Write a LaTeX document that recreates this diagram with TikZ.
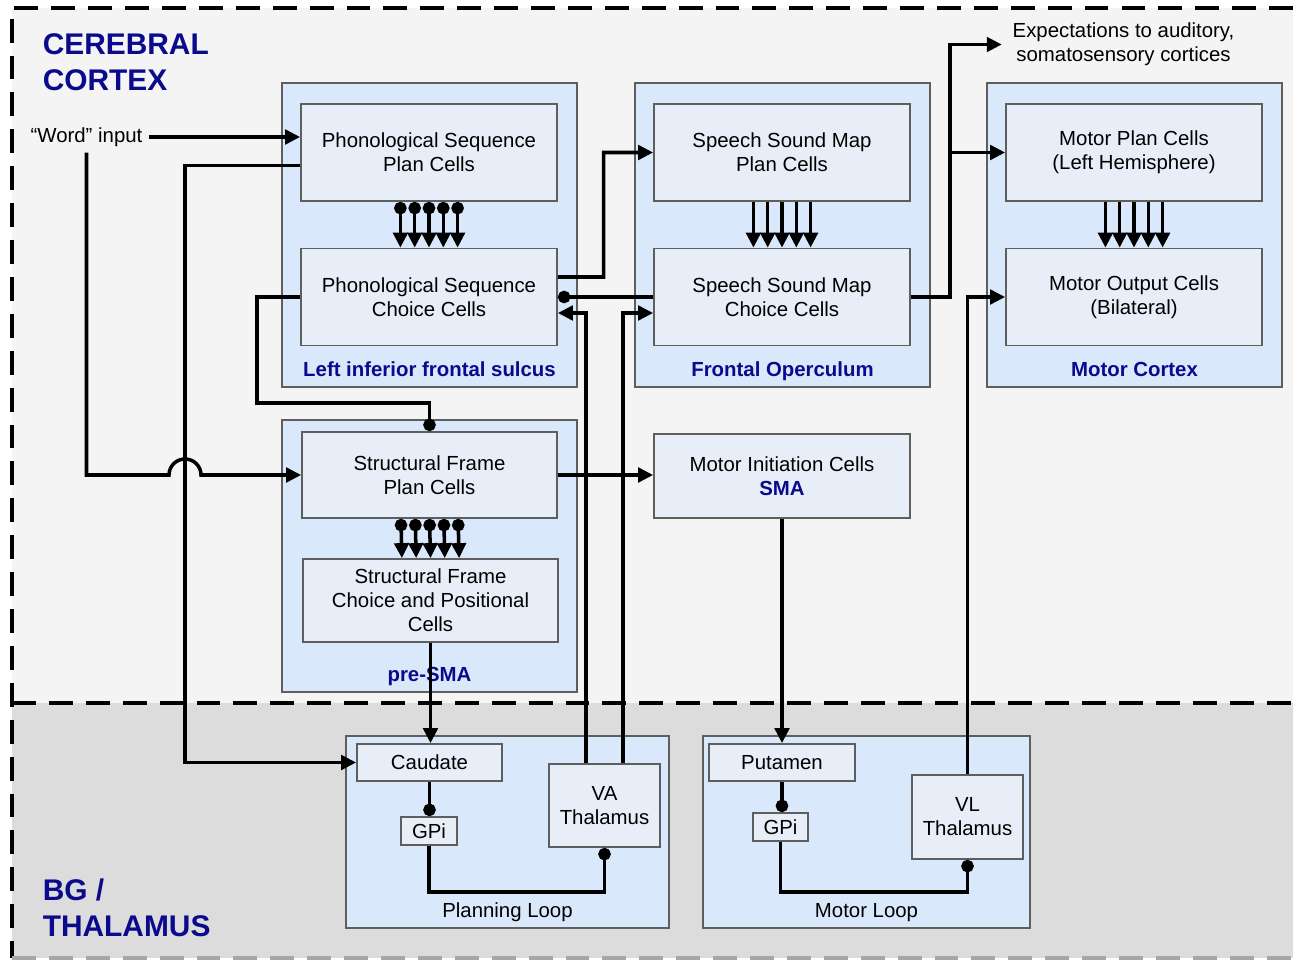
\documentclass[tikz,border=0pt]{standalone}
\usepackage{fontspec}
\setmainfont{Liberation Sans}
\usetikzlibrary{arrows.meta}

\definecolor{cortexgray}{HTML}{F4F4F4}
\definecolor{bggray}{HTML}{DCDCDC}
\definecolor{regionblue}{HTML}{DAE8FC}
\definecolor{cellblue}{HTML}{E8EEF8}
\definecolor{boxline}{HTML}{5E5E5E}
\definecolor{navy}{HTML}{0A0A8C}

\newcommand{\cellfont}{\fontsize{11.6}{13.6}\selectfont}
\newcommand{\titlefont}{\fontsize{17}{20.8}\selectfont\bfseries}

\tikzset{
	zone/.style={line width=2.1pt, dash pattern=on 13.6pt off 7.4pt},
	region/.style={draw=boxline, fill=regionblue, line width=1pt, inner sep=0pt},
	regionlbl/.style={anchor=south, font=\cellfont\bfseries, text=navy, text depth=0pt, inner sep=6pt},
	looplbl/.style={regionlbl, font=\cellfont, text=black},
	cell/.style={draw=boxline, fill=cellblue, line width=1pt, align=center, inner sep=0pt, font=\cellfont},
	bigcell/.style={cell, minimum width=5.12cm, minimum height=1.94cm},
	title/.style={anchor=north west, align=left, inner sep=0pt, font=\titlefont, text=navy},
	wire/.style={line width=2pt},
	arr/.style={wire, -{Triangle[length=0.3cm, width=0.29cm]}},
	dotend/.style={wire, -{Circle[length=0.25cm]}},
	dotarr/.style={wire, {Circle[length=0.25cm]}-{Triangle[length=0.3cm, width=0.29cm]}}
}

\begin{document}
\begin{tikzpicture}
				\useasboundingbox (0,0) rectangle (25.86,-19.2);
				\fill[cortexgray] (0.24,-0.16) rectangle (25.86,-14.06);
				\fill[bggray] (0.24,-14.06) rectangle (25.86,-19.16);
				\draw[zone] (25.86,-0.16) -- (0.24,-0.16) -- (0.24,-19.16);
				\draw[zone] (0.24,-14.06) -- (25.86,-14.06);
				\draw[zone, draw=gray!70] (0.24,-19.16) -- (25.86,-19.16);
				\node[title] (cortex)at(0.85, -0.66) {CEREBRAL\\CORTEX};
				\node[title] (bgthal)at(0.85, -17.56) {BG /\\THALAMUS};
				\node[region, minimum width=5.9cm, minimum height=6.08cm, label={[regionlbl]south:Left inferior frontal sulcus}] (lifs)at(8.59, -4.7) {};
				\node[region, minimum width=5.9cm, minimum height=6.08cm, label={[regionlbl]south:Frontal Operculum}] (fo)at(15.65, -4.7) {};
				\node[region, minimum width=5.9cm, minimum height=6.08cm, label={[regionlbl]south:Motor Cortex}] (mc)at(22.69, -4.7) {};
				\node[region, minimum width=5.9cm, minimum height=5.44cm, label={[regionlbl]south:pre-SMA}] (presma)at(8.59, -11.12) {};
				\node[region, minimum width=6.46cm, minimum height=3.84cm, label={[looplbl]south:Planning Loop}] (planloop)at(10.15, -16.64) {};
				\node[region, minimum width=6.54cm, minimum height=3.84cm, label={[looplbl]south:Motor Loop}] (motorloop)at(17.33, -16.64) {};
				\node[bigcell] (PSP)at(8.58, -3.05) {Phonological Sequence\\Plan Cells};
				\node[bigcell] (PSC)at(8.58, -5.94) {Phonological Sequence\\Choice Cells};
				\node[bigcell] (SSP)at(15.64, -3.05) {Speech Sound Map\\Plan Cells};
				\node[bigcell] (SSC)at(15.64, -5.94) {Speech Sound Map\\Choice Cells};
				\node[bigcell] (MPC)at(22.68, -3.05) {Motor Plan Cells\\(Left Hemisphere)};
				\node[bigcell] (MOC)at(22.68, -5.94) {Motor Output Cells\\(Bilateral)};
				\node[cell, minimum width=5.1cm, minimum height=1.72cm] (SFP)at(8.59, -9.5) {Structural Frame\\Plan Cells};
				\node[cell, minimum width=5.1cm, minimum height=1.66cm] (SFC)at(8.61, -12.01) {Structural Frame\\Choice and Positional\\Cells};
				\node[cell, minimum width=5.12cm, minimum height=1.68cm] (MIC)at(15.64, -9.52) {Motor Initiation Cells\\{\bfseries\color{navy}SMA}};
				\node[cell, minimum width=2.9cm, minimum height=0.74cm] (Caudate)at(8.59, -15.25) {Caudate};
				\node[cell, minimum width=1.12cm, minimum height=0.56cm] (GPi1)at(8.58, -16.62) {GPi};
				\node[cell, minimum width=2.22cm, minimum height=1.66cm] (VA)at(12.09, -16.11) {VA\\Thalamus};
				\node[cell, minimum width=2.92cm, minimum height=0.74cm] (Putamen)at(15.64, -15.25) {Putamen};
				\node[cell, minimum width=1.1cm, minimum height=0.56cm] (GPi2)at(15.61, -16.54) {GPi};
				\node[cell, minimum width=2.22cm, minimum height=1.68cm] (VL)at(19.35, -16.34) {VL\\Thalamus};
				\node[font=\cellfont] (word)at(1.73, -2.74) {“Word” input};
				\node[font=\cellfont, align=center, inner xsep=6pt] (expect)at(22.47, -0.89) {Expectations to auditory,\\somatosensory cortices};
				\coordinate (tap)at(19.0, -3.05);
				\draw[arr] (word.east) -- (word.east -| PSP.west);
				\draw[arr] (word.south) |- (3.38, -9.5) arc[start angle=180, end angle=0, radius=0.32cm] -- (SFP.west);
				\draw[arr] ([yshift=-0.26cm]PSP.west) -| (3.7, -15.25) -- (Caudate.west);
				\draw[dotend] (PSC.west) -| (5.14, -8.06) -| (SFP.north);
				\foreach \dx in {-2,...,2} {
					\draw[dotarr] ([xshift=\dx*0.286cm]PSP.south) -- ([xshift=\dx*0.286cm]PSC.north);
					\draw[arr] ([xshift=\dx*0.286cm]SSP.south) -- ([xshift=\dx*0.286cm]SSC.north);
					\draw[arr] ([xshift=\dx*0.286cm]MPC.south) -- ([xshift=\dx*0.286cm]MOC.north);
					\draw[dotarr] ([xshift=\dx*0.286cm]SFP.south) -- ([xshift=\dx*0.286cm]SFC.north);
				}
				\draw[arr] ([yshift=0.4cm]PSC.east) -- (12.07, -5.54) |- (SSP.west);
				\draw[dotend] (SSC.west) -- (PSC.east);
				\draw[arr] ([xshift=-0.37cm]VA.north) |- ([yshift=-0.32cm]PSC.east);
				\draw[arr] ([xshift=0.37cm]VA.north) |- ([yshift=-0.32cm]SSC.west);
				\draw[arr] (SSC.east) -| (tap) |- (expect.west);
				\draw[arr] (tap) -- (MPC.west);
				\draw[arr] (VL.north) |- (MOC.west);
				\draw[arr] (SFP.east) -- (SFP.east -| MIC.west);
				\draw[arr] (SFC.south) -- (SFC.south |- Caudate.north);
				\draw[arr] (MIC.south) -- (MIC.south |- Putamen.north);
				\draw[dotend] (Caudate.south) -- (Caudate.south |- GPi1.north);
				\draw[dotend] (GPi1.south) -- (8.58, -17.84) -| (VA.south);
				\draw[dotend] (Putamen.south) -- (Putamen.south |- GPi2.north);
				\draw[dotend] (GPi2.south) -- (15.61, -17.84) -| (VL.south);
			\end{tikzpicture}
\end{document}
